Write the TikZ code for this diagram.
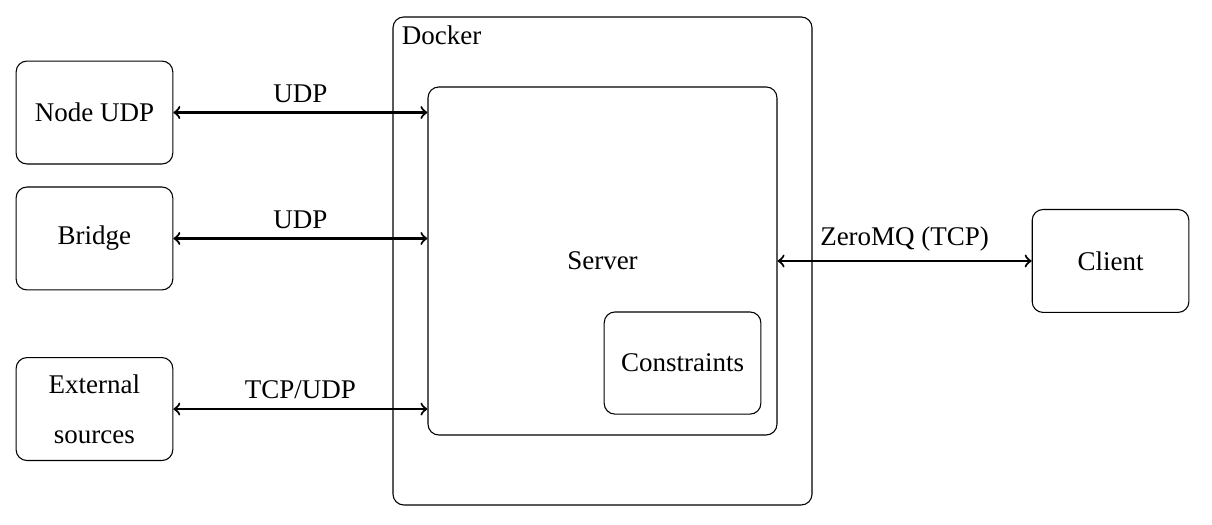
\documentclass[tikz,border=0pt]{standalone}
\usepackage{fontspec}
\setmainfont{Liberation Serif}
\usepackage{tikz}
\tikzstyle{block}=[draw,rounded corners,minimum width=2.04cm,minimum height=1.34cm,align=center]
\tikzstyle{link}=[<->,thick]

\begin{document}
\begin{tikzpicture}
\useasboundingbox (0, 0) rectangle (15.781, -6.823);
\node[block, minimum width=5.456cm, minimum height=6.354cm] at (7.845, -3.398) (docker) {};
\node[anchor = north west] at (docker.north west) {Docker};
\node[block, minimum width=4.544cm, minimum height=4.531cm] at (7.845, -3.398) (server) {Server};
\node[block, minimum height=1.33cm] at (8.887, -4.727) (constr) {Constraints};
\node[block] at (1.23, -1.465) (nodeudp) {Node UDP};
\node[block] at (1.23, -3.105) (bridge) {Bridge};
\node[block] at (1.23, -5.326) (ext) {External\\[6.5pt]sources};
\node[block] at (14.46, -3.398) (client) {Client};
\draw[link] (nodeudp.east) -- node[anchor = south] {UDP} (nodeudp.east -| server.west);
\draw[link] (bridge.east) -- node[anchor = south] {UDP} (bridge.east -| server.west);
\draw[link] (ext.east) -- node[anchor = south] {TCP/UDP} (ext.east -| server.west);
\draw[link] (server.east |- client.west) -- node[anchor = south] {ZeroMQ (TCP)} (client.west);
\end{tikzpicture}
\end{document}
